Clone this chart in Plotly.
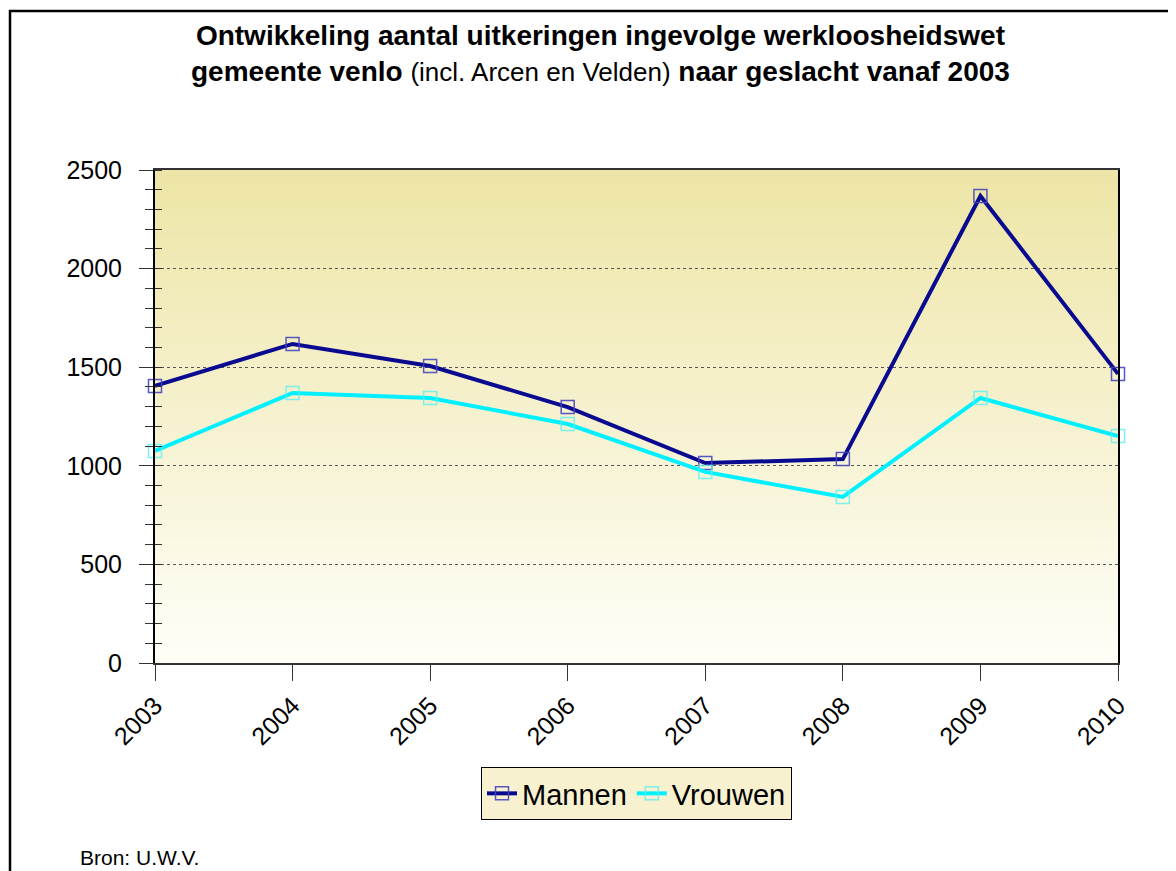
import plotly.graph_objects as go

years = ["2003", "2004", "2005", "2006", "2007", "2008", "2009", "2010"]
mannen = [1405, 1618, 1506, 1298, 1014, 1034, 2368, 1466]
vrouwen = [1075, 1369, 1344, 1212, 969, 842, 1344, 1151]

D = 8  # page body margin offset
W, H = 1176 - D, 871 - D
L, R, T, B = 155 - D, 1118 - D, 170 - D, 663 - D
pw, ph = R - L, B - T

def px_x(p):
    return (p - D - L) / pw

def px_y(p):
    return (B - (p - D)) / ph

fig = go.Figure()

fig.add_trace(go.Scatter(
    x=years, y=mannen, name="Mannen", mode="lines+markers",
    line=dict(color="#0A0A90", width=4),
    marker=dict(symbol="square-open", size=13, color="rgba(70,70,190,0.9)",
                line=dict(width=1.5)),
    cliponaxis=False,
))
fig.add_trace(go.Scatter(
    x=years, y=vrouwen, name="Vrouwen", mode="lines+markers",
    line=dict(color="#00F0FF", width=4),
    marker=dict(symbol="square-open", size=13, color="rgba(90,240,240,0.8)",
                line=dict(width=1.5)),
    cliponaxis=False,
))
# invisible trace on overlay axis for inside minor ticks
fig.add_trace(go.Scatter(x=[years[0]], y=[0], yaxis="y2", mode="markers",
                         marker=dict(opacity=0), showlegend=False, hoverinfo="skip"))

# gradient background strips
n = 60
top = (237, 229, 166)
bot = (255, 254, 248)
shapes = []
for i in range(n):
    t = (i + 0.5) / n
    c = tuple(round(bot[k] + (top[k] - bot[k]) * t) for k in range(3))
    shapes.append(dict(type="rect", xref="x domain", yref="y domain",
                       x0=0, x1=1, y0=i / n, y1=(i + 1) / n + 0.002,
                       fillcolor="rgb(%d,%d,%d)" % c, line=dict(width=0),
                       layer="below"))
# outer border
shapes.append(dict(type="rect", xref="paper", yref="paper",
                   x0=px_x(10), x1=px_x(1220), y0=px_y(920), y1=px_y(11),
                   line=dict(color="black", width=2.5), fillcolor="rgba(0,0,0,0)"))

title_html = ("<b>Ontwikkeling aantal uitkeringen ingevolge werkloosheidswet</b><br>"
              "<b>gemeente venlo </b><span style='font-size:26px'>(incl. Arcen en Velden)</span>"
              "<b> naar geslacht vanaf 2003</b>")

fig.update_layout(
    width=W, height=H,
    margin=dict(l=L, r=W - R, t=T, b=H - B),
    paper_bgcolor="white", plot_bgcolor="rgba(0,0,0,0)",
    font=dict(family="Liberation Sans, Arial, sans-serif", color="black"),
    shapes=shapes,
    showlegend=True,
    legend=dict(orientation="h", x=0.5, xanchor="center", y=px_y(767), yanchor="top",
                bgcolor="#F7F1CF", bordercolor="black", borderwidth=1,
                font=dict(size=29), itemwidth=30, tracegroupgap=0),
    annotations=[
        dict(text=title_html, xref="paper", yref="paper", x=px_x(600), y=px_y(53),
             xanchor="center", yanchor="middle", showarrow=False,
             font=dict(size=28), align="center"),
        dict(text="Bron: U.W.V.", xref="paper", yref="paper", x=px_x(78), y=px_y(857),
             xanchor="left", yanchor="middle", showarrow=False, font=dict(size=21)),
    ],
    xaxis=dict(type="category", range=[0, 7], showline=True, linecolor="#333",
               linewidth=2, mirror=True, ticks="outside", ticklen=16, tickcolor="#333",
               tickangle=-45, tickfont=dict(size=25), showgrid=False, zeroline=False),
    yaxis=dict(range=[0, 2500], tickvals=[0, 500, 1000, 1500, 2000, 2500],
               showline=True, linecolor="black", linewidth=2, mirror=True,
               ticks="outside", ticklen=14, tickcolor="#333", tickfont=dict(size=25),
               ticklabelstandoff=12,
               showgrid=True, gridcolor="#555", griddash="dot", gridwidth=1,
               zeroline=False,
               minor=dict(dtick=100, ticks="outside", ticklen=8, tickcolor="#333",
                          showgrid=False)),
    yaxis2=dict(range=[0, 2500], overlaying="y", side="left", showticklabels=False,
                tickvals=[], showgrid=False, zeroline=False, showline=False,
                minor=dict(dtick=100, ticks="inside", ticklen=7, tickcolor="#333",
                           showgrid=False)),
)

fig.write_html("out.html")
